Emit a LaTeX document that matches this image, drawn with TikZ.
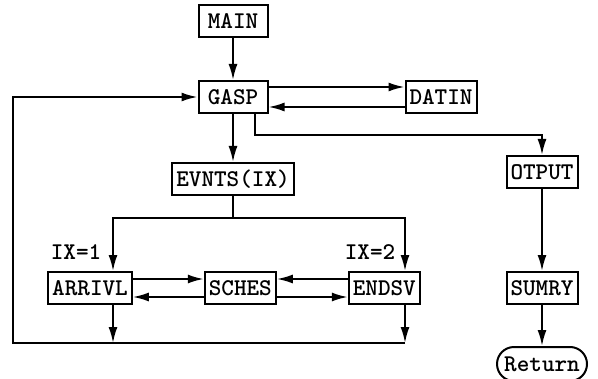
\documentclass[tikz,border=0pt]{standalone}
\usepackage{tikz}
\usetikzlibrary{arrows.meta,positioning,calc}
\tikzstyle{arrow} = [line width=1pt,->,>={Latex[length=8pt,width=4.5pt]}]
\tikzstyle{line} = [line width=1pt]
\tikzstyle{modbox} = [rectangle, minimum width=34.5pt, minimum height=16pt, inner xsep=2pt, text centered, draw, line width=1pt, font=\fontsize{12}{14}\selectfont\ttfamily\bfseries]
\tikzstyle{retbox} = [modbox, rounded corners=8.5pt, minimum height=17pt, minimum width=45pt]
\tikzstyle{cond} = [font=\fontsize{12}{14}\selectfont\ttfamily\bfseries]

\begin{document}
\begin{tikzpicture}[x=0.5pt,y=-0.5pt]
\useasboundingbox (0,0) rectangle (598,379);

% main line
\node[modbox] (main) at (233,21) {MAIN};
\node[modbox, below=21pt of main] (gasp) {GASP};
\node[modbox, right=68pt of gasp] (datin) {DATIN};
\node[modbox, below=24pt of gasp] (evnts) {EVNTS(IX)};

% events
\node[modbox] (arrivl) at (90,288) {ARRIVL};
\node[modbox, right=35.5pt of arrivl] (sches) {SCHES};
\node[modbox, right=35.5pt of sches] (endsv) {ENDSV};
\node[cond] (ix1) at (76,252) {IX=1};
\node[cond] (ix2) at (370,252) {IX=2};

% output branch
\node[modbox] (otput) at (542,172) {OTPUT};
\node[modbox, below=41pt of otput] (sumry) {SUMRY};
\node[retbox, below=20.5pt of sumry] (ret) {Return};

\coordinate (tap) at (255,135);
\coordinate (split) at (236,218);
\coordinate (colA) at (113,218);
\coordinate (colB) at (405,218);
\coordinate (loopbl) at (13,343);

\draw[arrow] (main) -- (gasp);
\draw[arrow] ([yshift=5pt]gasp.east) -- ([yshift=5pt]gasp.east -| datin.west);
\draw[arrow] ([yshift=-5pt]gasp.east -| datin.west) -- ([yshift=-5pt]gasp.east);
\draw[arrow] (gasp) -- (evnts);
\draw[arrow] (gasp.south -| tap) -- (tap) -| (otput.north);
\draw[arrow] (otput) -- (sumry);
\draw[arrow] (sumry) -- (ret);

\draw[line] (evnts.south) -- (evnts.south |- split);
\draw[arrow] (colA) -- (colB) -- (colB |- endsv.north);
\draw[arrow] (colB) -- (colA) -- (colA |- arrivl.north);

\draw[arrow] ([yshift=4.5pt]arrivl.east) -- ([yshift=4.5pt]sches.west);
\draw[arrow] ([yshift=-4.5pt]sches.west) -- ([yshift=-4.5pt]arrivl.east);
\draw[arrow] ([yshift=4.5pt]endsv.west) -- ([yshift=4.5pt]sches.east);
\draw[arrow] ([yshift=-4.5pt]sches.east) -- ([yshift=-4.5pt]endsv.west);

\draw[arrow] (colA |- arrivl.south) -- (colA |- loopbl);
\draw[arrow] (colB |- endsv.south) -- (colB |- loopbl);
\draw[arrow] (colB |- loopbl) -- (loopbl) |- (gasp.west);
\end{tikzpicture}
\end{document}
